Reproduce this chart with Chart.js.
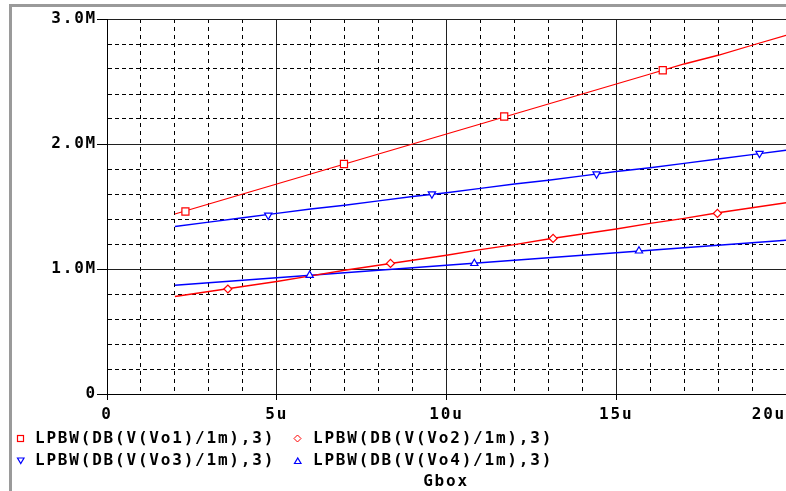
<!DOCTYPE html>
<html>
<head>
<meta charset="utf-8">
<script src="https://cdn.jsdelivr.net/npm/chart.js@4.4.1/dist/chart.umd.min.js"></script>
<style>
  html, body { margin: 0; padding: 0; background: #fff; }
  #wrap { position: relative; width: 786px; height: 491px; overflow: hidden; }
  #frame { position: absolute; left: 9px; top: 4px; right: 0; bottom: 0;
    border-left: 3px solid #9a9a9a; border-top: 3px solid #9a9a9a; }
  canvas { position: absolute; left: 0; top: 0; }
  .lg { position: absolute; font: bold 16px "DejaVu Sans Mono", monospace;
    letter-spacing: 1.8px; line-height: 20px; color: #000; white-space: pre; }
  .mk { position: absolute; }
</style>
</head>
<body>
<div id="wrap">
  <div id="frame"></div>
  <canvas id="plot" width="786" height="491"></canvas>
  <svg class="mk" style="left:16px;top:434px" width="10" height="10"><rect x="1.5" y="1.5" width="6" height="6" fill="#fff" stroke="#f00" stroke-width="1.2"/></svg>
  <div class="lg" style="left:35px;top:428px">LPBW(DB(V(Vo1)/1m),3)</div>
  <svg class="mk" style="left:293px;top:434px" width="10" height="10"><path d="M4.5 1 L8 4.5 L4.5 8 L1 4.5 Z" fill="#fff" stroke="#f00" stroke-width="1"/></svg>
  <div class="lg" style="left:313px;top:428px">LPBW(DB(V(Vo2)/1m),3)</div>
  <svg class="mk" style="left:16px;top:456px" width="10" height="10"><path d="M1.5 2 L8 2 L4.75 7.5 Z" fill="#fff" stroke="#00f" stroke-width="1.2"/></svg>
  <div class="lg" style="left:35px;top:450px">LPBW(DB(V(Vo3)/1m),3)</div>
  <svg class="mk" style="left:293px;top:456px" width="10" height="10"><path d="M1.5 7.5 L8 7.5 L4.75 2 Z" fill="#fff" stroke="#00f" stroke-width="1.2"/></svg>
  <div class="lg" style="left:313px;top:450px">LPBW(DB(V(Vo4)/1m),3)</div>
  <div class="lg" style="left:446px;top:471px;transform:translateX(-50%)">Gbox</div>
</div>
<script>
// x in microseconds, y in millions
const xu = [2, 3, 4, 5, 6, 7, 8, 9, 10, 11, 12, 13, 14, 15, 16, 17, 18, 19, 20];
const vo1 = [1.44, 1.52, 1.60, 1.68, 1.76, 1.84, 1.92, 2.00, 2.08, 2.16, 2.24, 2.32, 2.40, 2.48, 2.56, 2.64, 2.71, 2.79, 2.87];
const vo2 = [0.78, 0.82, 0.86, 0.90, 0.945, 0.99, 1.03, 1.07, 1.11, 1.155, 1.195, 1.24, 1.28, 1.32, 1.365, 1.405, 1.45, 1.49, 1.53];
const vo3 = [1.34, 1.375, 1.41, 1.445, 1.48, 1.51, 1.545, 1.58, 1.61, 1.645, 1.68, 1.71, 1.745, 1.78, 1.81, 1.845, 1.88, 1.915, 1.95];
const vo4 = [0.87, 0.89, 0.91, 0.93, 0.95, 0.97, 0.99, 1.01, 1.03, 1.05, 1.07, 1.09, 1.11, 1.13, 1.15, 1.17, 1.19, 1.21, 1.23];

// marker positions along each trace
const vo1MarkX = [2.31, 6.98, 11.7, 16.37];
const vo1MarkY = [1.46, 1.84, 2.22, 2.59];
const vo2MarkX = [3.56, 8.35, 13.14, 17.98];
const vo2MarkY = [0.84, 1.045, 1.245, 1.445];
const vo3MarkX = [4.75, 9.57, 14.42, 19.22];
const vo3MarkY = [1.43, 1.60, 1.76, 1.925];
const vo4MarkX = [5.97, 10.82, 15.67];
const vo4MarkY = [0.95, 1.045, 1.145];

const RED = '#ff0000';
const BLUE = '#0000ff';
const FONT = { family: '"DejaVu Sans Mono", monospace', size: 16, weight: 'bold' };

const pts = (xs, ys) => xs.map((x, i) => ({ x, y: ys[i] }));

function trace(ys, color) {
  return { data: pts(xu, ys), showLine: true, borderColor: color, borderWidth: 1.3, pointRadius: 0, order: 2 };
}

function marks(xs, ys, color, style, r, rot) {
  return {
    data: pts(xs, ys), showLine: false, borderColor: color, backgroundColor: '#fff',
    pointStyle: style, pointRadius: r, pointBorderWidth: 1.2, pointRotation: rot || 0,
    pointBackgroundColor: '#fff', pointBorderColor: color, order: 1
  };
}

const isMajorY = v => Math.abs(v - Math.round(v)) < 1e-6;
const isMajorX = v => Math.abs(v % 5) < 1e-6;

// PSpice-like wide letter spacing for canvas text
const spacing = {
  id: 'spacing',
  beforeDraw(c) { c.ctx.letterSpacing = '1.8px'; }
};

new Chart(document.getElementById('plot'), {
  type: 'scatter',
  data: {
    datasets: [
      marks(vo1MarkX, vo1MarkY, RED, 'rect', 5),
      marks(vo2MarkX, vo2MarkY, RED, 'rectRot', 4),
      marks(vo3MarkX, vo3MarkY, BLUE, 'triangle', 4.2, 180),
      marks(vo4MarkX, vo4MarkY, BLUE, 'triangle', 4.2),
      trace(vo1, RED),
      trace(vo2, RED),
      trace(vo3, BLUE),
      trace(vo4, BLUE)
    ]
  },
  options: {
    responsive: false,
    animation: false,
    devicePixelRatio: 1,
    layout: { autoPadding: false, padding: { top: 19, right: 0, left: 0, bottom: 0 } },
    plugins: { legend: { display: false }, tooltip: { enabled: false } },
    scales: {
      x: {
        type: 'linear', min: 0, max: 20,
        afterFit: s => { s.height = 97; s.paddingLeft = 0; s.paddingRight = 0; },
        ticks: {
          stepSize: 1, autoSkip: false, maxRotation: 0, padding: 5, color: '#000', font: FONT,
          callback: v => {
            if (!isMajorX(v)) return '';
            if (v === 0) return '0';
            return v === 20 ? '20u   ' : v + 'u';
          }
        },
        grid: {
          color: c => isMajorX(c.tick.value) ? '#202020' : '#000',
          lineWidth: 1,
          tickLength: 6,
          tickColor: c => isMajorX(c.tick.value) ? '#000' : 'rgba(0,0,0,0)'
        },
        border: {
          display: true, color: '#000', width: 1,
          dash: c => (c.tick && !isMajorX(c.tick.value)) ? [4, 4] : []
        }
      },
      y: {
        type: 'linear', min: 0, max: 3,
        afterFit: s => { s.width = 107; s.paddingTop = 0; s.paddingBottom = 0; },
        ticks: {
          stepSize: 0.2, autoSkip: false, padding: 0, color: '#000', font: FONT,
          callback: v => {
            if (!isMajorY(v)) return '';
            return v === 0 ? '0' : v.toFixed(1) + 'M';
          }
        },
        grid: {
          color: c => isMajorY(c.tick.value) ? '#202020' : '#000',
          lineWidth: 1,
          tickLength: 10,
          tickColor: c => isMajorY(c.tick.value) ? '#000' : 'rgba(0,0,0,0)'
        },
        border: {
          display: true, color: '#000', width: 1,
          dash: c => (c.tick && !isMajorY(c.tick.value)) ? [4, 3] : []
        }
      }
    }
  },
  plugins: [spacing]
});
</script>
</body>
</html>
